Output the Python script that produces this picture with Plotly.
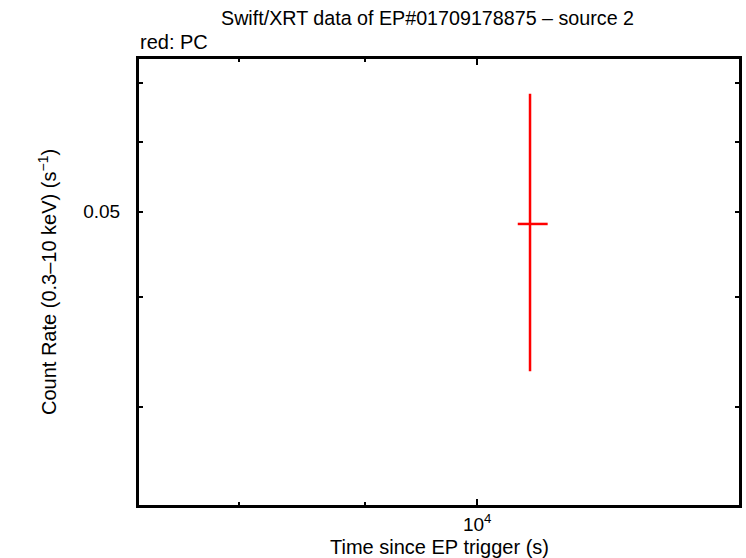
import plotly.graph_objects as go

# Data
time_s = [10507]
time_err_minus = [120]
time_err_plus = [175]
rate = [0.04842]
rate_err_minus = [0.01549]
rate_err_plus = [0.01968]

x_major_ticks = [10000]
x_major_text = ["10<sup>4</sup>"]
x_minor_ticks = [8000, 9000]
y_ticks = [0.03, 0.04, 0.05, 0.06, 0.07]
y_tick_text = ["", "", "0.05", "", ""]

FONT = "Liberation Sans, Arial, Helvetica, sans-serif"
Y_RANGE = [-1.63584, -1.12617]

fig = go.Figure()
fig.add_trace(go.Scatter(
    x=time_s, y=rate, mode="lines",
    line=dict(color="red", width=2.5),
    error_x=dict(type="data", symmetric=False, array=time_err_plus,
                 arrayminus=time_err_minus, color="red", thickness=2.5, width=0),
    error_y=dict(type="data", symmetric=False, array=rate_err_plus,
                 arrayminus=rate_err_minus, color="red", thickness=2.5, width=0),
    showlegend=False, hoverinfo="x+y",
))
# invisible helper trace so the right-hand mirrored axis gets drawn
fig.add_trace(go.Scatter(
    x=time_s, y=rate, yaxis="y2", mode="lines", line=dict(width=0),
    showlegend=False, hoverinfo="skip",
))

fig.update_layout(
    width=746, height=558,
    margin=dict(l=138, r=4, t=58, b=52),
    paper_bgcolor="white", plot_bgcolor="white",
    font=dict(family=FONT, size=20, color="black"),
    xaxis=dict(
        type="log", range=[3.86211, 4.10684],
        tickmode="array", tickvals=x_major_ticks, ticktext=x_major_text,
        ticks="inside", ticklen=7, tickwidth=2, tickcolor="black",
        minor=dict(tickmode="array", tickvals=x_minor_ticks, ticks="inside",
                   ticklen=4, tickwidth=2, tickcolor="black", showgrid=False),
        showline=True, linecolor="black", linewidth=2, mirror="ticks",
        showgrid=False, zeroline=False,
        tickfont=dict(size=19),
    ),
    yaxis=dict(
        type="log", range=Y_RANGE,
        tickmode="array", tickvals=y_ticks, ticktext=y_tick_text,
        ticks="inside", ticklen=5, tickwidth=2, tickcolor="black",
        showline=True, linecolor="black", linewidth=2, mirror="ticks",
        showgrid=False, zeroline=False,
        tickfont=dict(size=19), ticklabelstandoff=12,
    ),
    yaxis2=dict(
        type="log", range=Y_RANGE, overlaying="y", side="right",
        tickmode="array", tickvals=y_ticks, showticklabels=False,
        ticks="inside", ticklen=5, tickwidth=2, tickcolor="black",
        showline=True, linecolor="black", linewidth=2,
        showgrid=False, zeroline=False,
    ),
    shapes=[
        dict(type="rect", xref="paper", yref="paper", x0=0, x1=1, y0=0, y1=1,
             line=dict(color="black", width=2), fillcolor="rgba(0,0,0,0)",
             layer="above"),
    ],
    annotations=[
        dict(text="Swift/XRT data of EP#01709178875 \u2013 source 2",
             xref="paper", yref="paper", x=0.481, y=1.0, yshift=40,
             xanchor="center", yanchor="middle", showarrow=False,
             font=dict(size=19.7)),
        dict(text="red: PC", xref="paper", yref="paper", x=0.0, y=1.0, yshift=16,
             xanchor="left", yanchor="middle", showarrow=False,
             font=dict(size=20)),
        dict(text="Time since EP trigger (s)", xref="paper", yref="paper",
             x=0.5, y=0.0, yshift=-41, xanchor="center", yanchor="middle",
             showarrow=False, font=dict(size=20)),
        dict(text="Count Rate (0.3\u201310 keV) (s<sup>\u22121</sup>)",
             xref="paper", yref="paper", x=0.0, xshift=-91, y=0.5,
             xanchor="center", yanchor="middle", textangle=-90,
             showarrow=False, font=dict(size=20)),
    ],
)

fig.write_html(
    "out.html",
    config={"displayModeBar": False},
    post_script="document.body.style.margin='0';document.body.style.overflow='hidden';",
)
